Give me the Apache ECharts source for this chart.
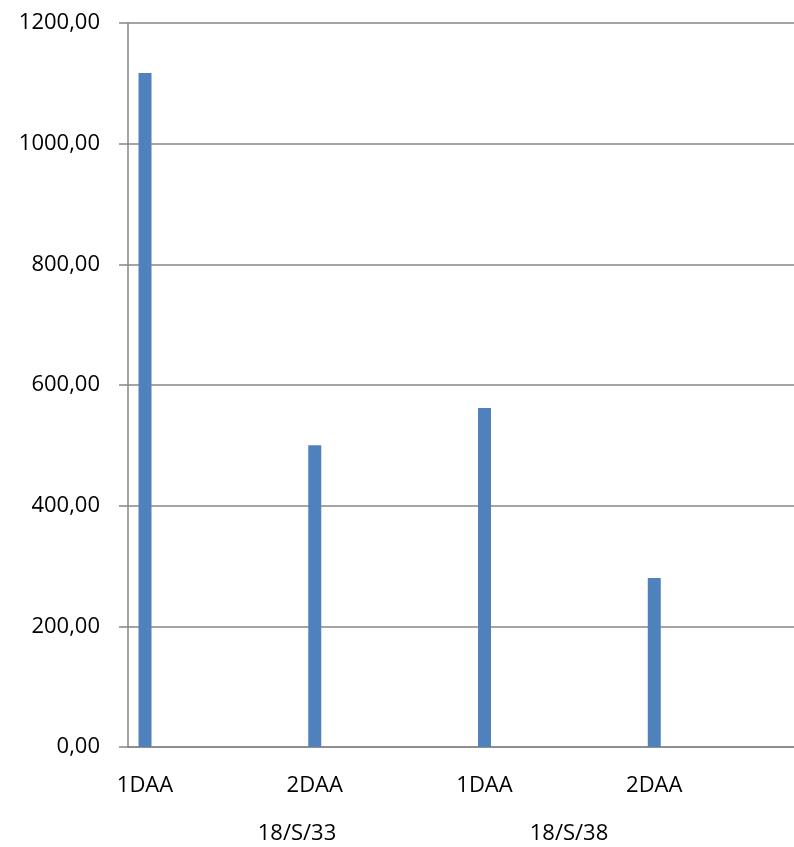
<!DOCTYPE html>
<html>
<head>
<meta charset="utf-8">
<script src="https://cdn.jsdelivr.net/npm/echarts@6/dist/echarts.min.js"></script>
<style>html,body{margin:0;padding:0;background:#fff;}#c{width:794px;height:847px;}</style>
</head>
<body>
<div id="c"></div>
<script>
var categories = ["1DAA", "2DAA", "1DAA", "2DAA"];
var groups = ["18/S/33", "18/S/38"];
var values = [1117, 500, 562, 280];
var yTicks = [0, 200, 400, 600, 800, 1000, 1200];

var FONT = "Open Sans";
var chart = echarts.init(document.getElementById('c'), null, {renderer: 'canvas'});
var option = {
  animation: false,
  backgroundColor: '#ffffff',
  grid: {left: 128, width: 679, top: 23, bottom: 100, containLabel: false, outerBoundsMode: 'none'},
  xAxis: {
    type: 'category',
    data: categories,
    axisLine: {show: true, lineStyle: {color: '#868686', width: 1.5}},
    axisTick: {show: false},
    axisLabel: {show: false},
    splitLine: {show: false}
  },
  yAxis: {
    type: 'value',
    min: yTicks[0],
    max: yTicks[yTicks.length - 1],
    interval: 200,
    axisLine: {show: true, lineStyle: {color: '#868686', width: 1.5}},
    axisTick: {show: true, length: 9, lineStyle: {color: '#868686', width: 1.5}},
    splitLine: {show: true, lineStyle: {color: '#868686', width: 1.5}},
    axisLabel: {
      margin: 28,
      color: '#000',
      fontFamily: FONT,
      fontSize: 22,
      formatter: function (v) { return v.toFixed(2).replace('.', ','); }
    }
  },
  series: [
    {
      type: 'bar',
      data: values,
      barWidth: 13,
      barGap: '944%',
      itemStyle: {color: '#4F81BD'},
      label: {
        show: true,
        position: 'bottom',
        distance: 26,
        formatter: '{b}',
        color: '#000',
        fontFamily: FONT,
        fontSize: 22,
        lineHeight: 26
      }
    },
    {
      type: 'bar',
      data: [null, null, null, null],
      barWidth: 13,
      itemStyle: {color: 'transparent'}
    }
  ],
  graphic: [
    {type: 'text', x: 297, y: 834, style: {text: groups[0], font: '22px "Open Sans"', fill: '#000', align: 'center', verticalAlign: 'middle'}},
    {type: 'text', x: 569, y: 834, style: {text: groups[1], font: '22px "Open Sans"', fill: '#000', align: 'center', verticalAlign: 'middle'}}
  ]
};
chart.setOption(option);
</script>
</body>
</html>
